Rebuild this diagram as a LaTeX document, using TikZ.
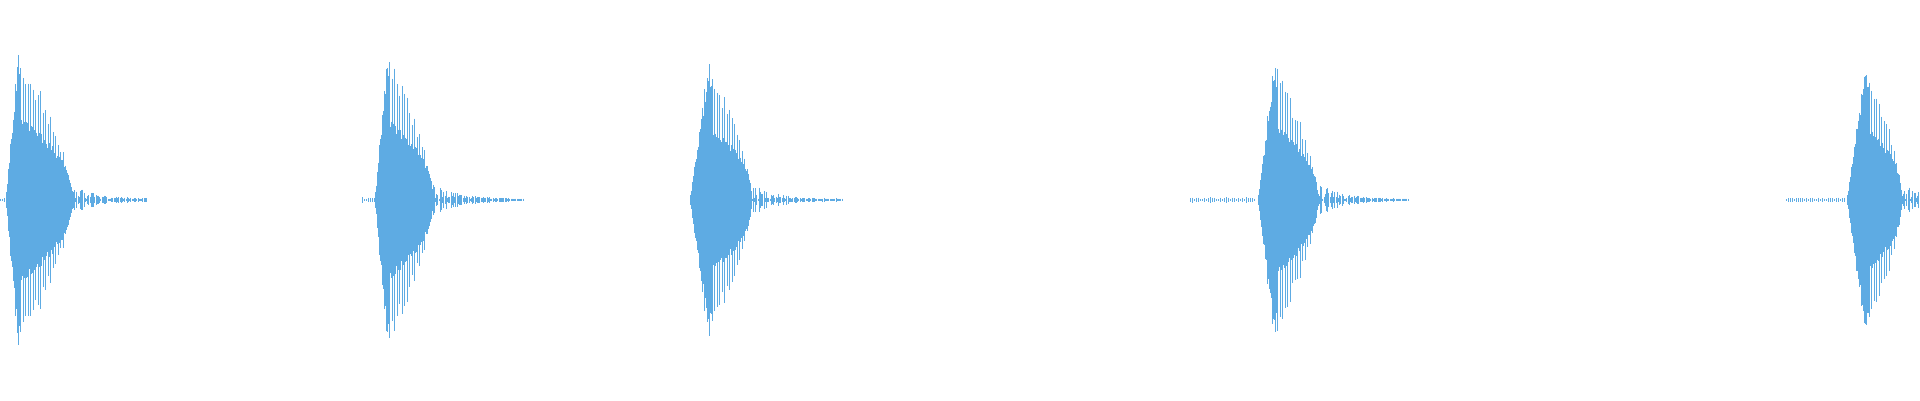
\documentclass[tikz,border=0pt]{standalone}
\definecolor{wave}{RGB}{94,171,227}
\pgfmathsetseed{7}
\newcommand\burst[5]{% x0, peak offset, amplitude, core length, tail length
 \foreach \i in {0,0.7,...,#4}{%
  \pgfmathsetmacro\e{\i<#2 ? #3*\i/#2 : #3*(max(0.001,1-(\i-#2)/(#4-#2)))^0.45}%
  \pgfmathsetmacro\f{\i<#2+3 ? 0.8 : 0.47}%
  \pgfmathsetmacro\h{\e*(\f+0.08*rnd)}%
  \pgfmathsetmacro\x{#1+\i}%
  \draw (\x,200-\h) -- (\x,200+\h);
 }
 \foreach \i in {2,4.5,...,#4}{%
  \pgfmathsetmacro\e{\i<#2 ? #3*\i/#2 : #3*(max(0.001,1-(\i-#2)/(#4-#2)))^0.65}%
  \pgfmathsetmacro\h{\e*(0.82+0.18*rnd)}%
  \pgfmathsetmacro\x{#1+\i}%
  \draw[line width=0.8pt] (\x,200-\h) -- (\x,200+\h);
 }
 \foreach \i in {0,1.2,...,#5}{%
  \pgfmathsetmacro\h{1+16*exp(-\i/25)*rnd}%
  \pgfmathsetmacro\x{#1+#4+\i}%
  \draw[line width=0.9pt] (\x,200-\h) -- (\x,200+\h);
 }
}
\newcommand\prenoise[2]{%
 \foreach \i in {0,2,...,#2}{\pgfmathsetmacro\h{0.8+1.8*rnd}\pgfmathsetmacro\x{#1+\i}\draw[line width=0.9pt] (\x,200-\h) -- (\x,200+\h);}
}
\begin{document}
\begin{tikzpicture}[x=1pt,y=-1pt,wave, line width=1pt]
\useasboundingbox (0,0) rectangle (1920,400);
\clip (0,0) rectangle (1920,400);
\prenoise{-2}{8}
\burst{6}{12}{155}{66}{75}
\prenoise{362}{12}
\burst{375}{12}{150}{58}{90}
\burst{690}{18}{142}{62}{90}
\prenoise{1190}{65}
\burst{1258}{16}{142}{60}{90}
\prenoise{1786}{58}
\burst{1847}{18}{142}{55}{40}
\end{tikzpicture}
\end{document}
